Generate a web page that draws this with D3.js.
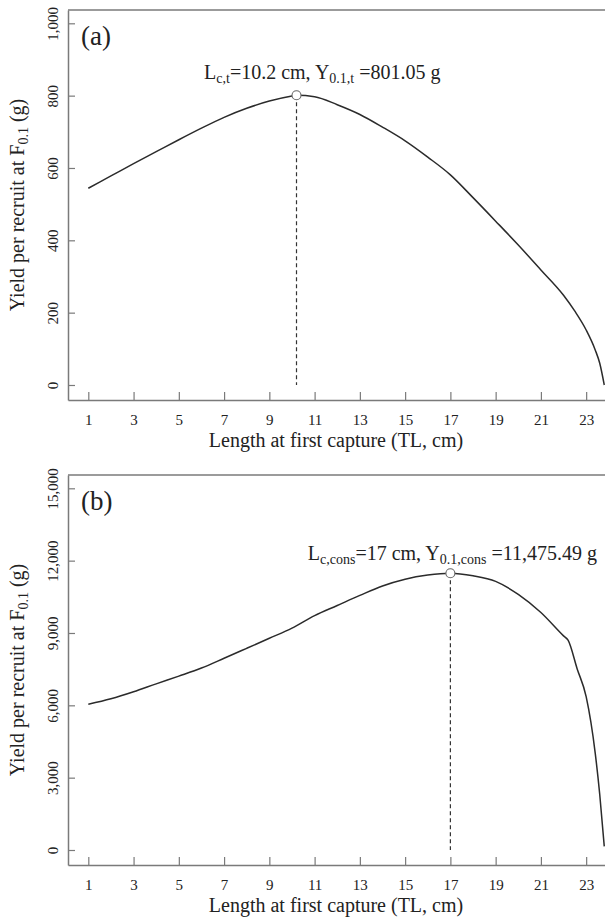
<!DOCTYPE html>
<html>
<head>
<meta charset="utf-8">
<script src="https://cdn.jsdelivr.net/npm/d3@7"></script>
<style>
  html, body { margin: 0; padding: 0; background: #fff; }
  svg { display: block; }
  svg text { font-family: "Liberation Serif", "Times New Roman", Times, serif !important; fill: #222; }
</style>
</head>
<body>
<svg id="chart" width="605" height="919" font-family="Liberation Serif"></svg>
<script>
// ---------- data ----------
const lengthA = [1, 2, 3, 4, 5, 6, 7, 8, 9, 10, 10.2, 11, 12, 13, 14, 15, 16, 17, 18, 19, 20, 21, 22, 22.5, 23, 23.4, 23.6, 23.8];
const yieldA  = [544, 578, 612, 645, 678, 710, 740, 765, 785, 799, 801.05, 797, 775, 748, 713, 675, 630, 581, 518, 453, 387, 318, 248, 204, 152, 97, 60, 0];

const lengthB = [1, 2, 3, 4, 5, 6, 7, 8, 9, 10, 11, 12, 13, 14, 15, 16, 17, 18, 19, 20, 21, 22, 22.2, 22.6, 23, 23.4, 23.6, 23.8];
const yieldB  = [6045, 6270, 6560, 6890, 7210, 7545, 7950, 8364, 8780, 9200, 9720, 10140, 10560, 10950, 11230, 11400, 11475.49, 11370, 11140, 10600, 9850, 8880, 8700, 7520, 6358, 4020, 2300, 150];

const xTicks  = [1, 3, 5, 7, 9, 11, 13, 15, 17, 19, 21, 23];
const yTicksA = [0, 200, 400, 600, 800, 1000];
const yTicksB = [0, 3000, 6000, 9000, 12000, 15000];

const optA = { peakX: 10.2, peakY: 801.05, label: "(a)",
  note: [["L"], ["c,t", true], ["=10.2 cm, Y"], ["0.1,t", true], [" =801.05 g"]],
  noteX: 11.34, noteY: 846 };
const optB = { peakX: 17, peakY: 11475.49, label: "(b)",
  note: [["L"], ["c,cons", true], ["=17 cm, Y"], ["0.1,cons", true], [" =11,475.49 g"]],
  noteX: 17.09, noteY: 12027 };

const xTitle = "Length at first capture (TL, cm)";

// ---------- drawing ----------
const FONT = "Liberation Serif";
const svg = d3.select("#chart");
const axisColor = "#7a7a7a";
const fmt = d3.format(",");

function panel(top, lens, vals, yTicks, yDomain, opt) {
  const bottom = top + 390;
  const left = 68, right = 608;
  const g = svg.append("g").attr("font-family", FONT);

  const x = d3.scaleLinear().domain([0.1025, 23.965]).range([left, right]);
  const y = d3.scaleLinear().domain(yDomain).range([bottom, top]);

  // top border
  g.append("line").attr("x1", left).attr("x2", right).attr("y1", top).attr("y2", top)
    .attr("stroke", axisColor).attr("stroke-width", 1.5);

  // x axis
  const xa = g.append("g").attr("transform", `translate(0,${bottom})`)
    .call(d3.axisBottom(x).tickValues(xTicks).tickSizeInner(-8).tickSizeOuter(0).tickPadding(14));
  xa.attr("font-family", FONT).attr("font-size", 15);
  xa.select(".domain").attr("stroke", axisColor).attr("stroke-width", 1.5);
  xa.selectAll(".tick line").attr("stroke", axisColor).attr("stroke-width", 1.2);
  xa.selectAll(".tick text").attr("font-size", 15).attr("fill", "#222").attr("font-family", FONT);

  // y axis
  const ya = g.append("g").attr("transform", `translate(${left},0)`)
    .call(d3.axisLeft(y).tickValues(yTicks).tickFormat(fmt).tickSizeInner(-7).tickSizeOuter(0).tickPadding(0));
  ya.attr("font-family", FONT).attr("font-size", 15);
  ya.select(".domain").attr("stroke", axisColor).attr("stroke-width", 1.5);
  ya.selectAll(".tick line").attr("stroke", axisColor).attr("stroke-width", 1.2);
  ya.selectAll(".tick text")
    .attr("font-size", 15).attr("fill", "#222").attr("font-family", FONT)
    .attr("text-anchor", "middle")
    .attr("x", null).attr("dy", null)
    .attr("transform", "translate(-10,0) rotate(-90)");

  // dashed vertical line
  g.append("line")
    .attr("x1", x(opt.peakX)).attr("x2", x(opt.peakX))
    .attr("y1", y(opt.peakY)).attr("y2", y(0))
    .attr("stroke", "#333").attr("stroke-width", 1.2).attr("stroke-dasharray", "4,3");

  // curve
  const line = d3.line().x((d, i) => x(lens[i])).y(d => y(d)).curve(d3.curveMonotoneX);
  g.append("path").datum(vals).attr("d", line)
    .attr("fill", "none").attr("stroke", "#2b2b2b").attr("stroke-width", 1.5);

  // peak marker
  g.append("circle").attr("cx", x(opt.peakX)).attr("cy", y(opt.peakY)).attr("r", 4.5)
    .attr("fill", "#fff").attr("stroke", "#666").attr("stroke-width", 1.1);

  // annotation
  const t = g.append("text").attr("x", x(opt.noteX)).attr("y", y(opt.noteY))
    .attr("text-anchor", "middle").attr("font-size", 20);
  let sub = false;
  opt.note.forEach(([s, isSub]) => {
    const ts = t.append("tspan").text(s);
    if (isSub && !sub) { ts.attr("font-size", 14).attr("dy", 4); sub = true; }
    else if (!isSub && sub) { ts.attr("dy", -4); sub = false; }
  });

  // panel label
  g.append("text").attr("x", 81).attr("y", top + 35).attr("font-size", 27).text(opt.label);

  // x title
  g.append("text").attr("x", 336).attr("y", bottom + 46.5)
    .attr("text-anchor", "middle").attr("font-size", 20).text(xTitle);

  // y title
  const yt = g.append("text")
    .attr("transform", `translate(24,${(top + bottom) / 2}) rotate(-90)`)
    .attr("text-anchor", "middle").attr("font-size", 20);
  yt.append("tspan").text("Yield per recruit at F");
  yt.append("tspan").text("0.1").attr("font-size", 14).attr("dy", 4);
  yt.append("tspan").text(" (g)").attr("dy", -4);
}

panel(10, lengthA, yieldA, yTicksA, [-41.5, 1036.8], optA);
panel(475, lengthB, yieldB, yTicksB, [-622, 15552], optB);
</script>
</body>
</html>
